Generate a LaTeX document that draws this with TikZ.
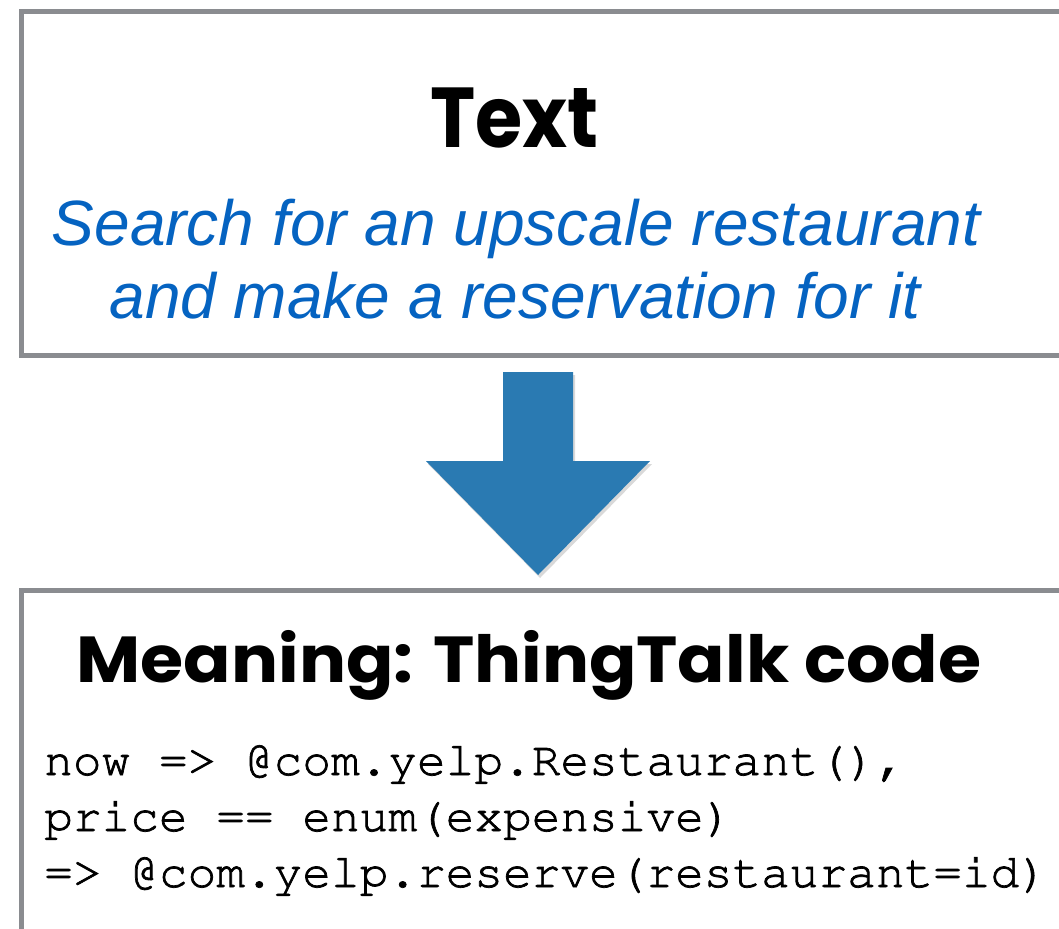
\documentclass[tikz,border=0pt]{standalone}
\usepackage[T1]{fontenc}
\usepackage{fontspec}
\setmainfont{Liberation Sans}
\newfontfamily\headfont{Poppins}[BoldFont={* Bold}]
\usetikzlibrary{shadows}

\definecolor{framegray}{RGB}{138,140,144}
\definecolor{textblue}{HTML}{0563C1}
\definecolor{arrowblue}{RGB}{42,122,178}

\newcommand{\courierfont}[1]{\fontencoding{T1}\fontfamily{pcr}\fontseries{m}\fontshape{n}\fontsize{#1}{#1}\selectfont}
% slightly heavier monospace strokes: fill and stroke the glyphs
\newcommand{\heavytext}[1]{\special{pdf:literal direct 2 Tr 0.7 w}#1\special{pdf:literal direct 0 Tr}}

\tikzset{
  panel/.style={draw=framegray, line width=5pt, fill=white, outer sep=0pt,
    inner sep=0pt, anchor=north west, rectangle},
  heading/.style={font=\headfont\bfseries\fontsize{#1}{#1}\selectfont,
    text=black, inner sep=0pt, anchor=base},
  sentence/.style={font=\itshape\fontsize{64}{64}\selectfont, text=textblue,
    inner sep=0pt, anchor=base},
  codeline/.style={font=\courierfont{47.8}, text=black, inner sep=0pt,
    anchor=base west},
  bigarrow/.style={fill=arrowblue, draw=none,
    drop shadow={opacity=0.3, shadow xshift=2pt, shadow yshift=-3pt}},
}

\begin{document}
\begin{tikzpicture}[x=1pt,y=-1pt]
  \useasboundingbox (0,0) rectangle (1059,928);
  \clip (0,0) rectangle (1059,928);

  % input sentence panel
  \node[panel, minimum width=1060pt, minimum height=344pt] (textbox) at (21,11.5) {};
  \node[heading=85] (texttitle) at (514.5,148) {\scalebox{0.9}[1]{Text}};
  \node[sentence] (line1) at (516,245) {Search for an upscale restaurant};
  \node[sentence] (line2) at (515,318) {and make a reservation for it};

  % output program panel
  \node[panel, minimum width=1060pt, minimum height=360pt] (codebox) at (21,590.5) {};
  \node[heading=65] (codetitle) at (529,682) {\scalebox{1.075}[1]{Meaning: ThingTalk code}};
  \node[codeline] (code1) at (44,775) {\heavytext{now => @com.yelp.Restaurant(),}};
  \node[codeline] (code2) at (44,831) {\heavytext{price == enum(expensive)}};
  \node[codeline] (code3) at (44,887) {\heavytext{=> @com.yelp.reserve(restaurant=id)}};

  % block arrow from the sentence to its meaning
  \coordinate (atop) at (538,372);
  \coordinate (atip) at (538,575);
  \path[bigarrow] ([xshift=-35pt]atop) -- ([xshift=35pt]atop)
    -- ([xshift=35pt]538,461) -- ([xshift=112pt]538,461) -- (atip)
    -- ([xshift=-112pt]538,461) -- ([xshift=-35pt]538,461) -- cycle;
\end{tikzpicture}
\end{document}
